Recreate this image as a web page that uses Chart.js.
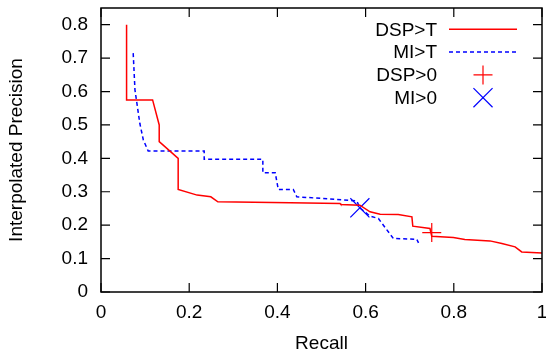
<!DOCTYPE html>
<html>
<head>
<meta charset="utf-8">
<script src="https://cdn.jsdelivr.net/npm/chart.js@4/dist/chart.umd.min.js"></script>
<style>
  html, body { margin: 0; padding: 0; background: #fff; }
  #wrap { width: 546px; height: 352px; }
</style>
</head>
<body>
<div id="wrap"><canvas id="c" width="546" height="352"></canvas></div>
<script>
// values
const dspRecall = [0.058, 0.058, 0.117, 0.132, 0.132, 0.175, 0.175, 0.218, 0.249, 0.265, 0.429, 0.542, 0.544, 0.587, 0.61, 0.633, 0.674, 0.705, 0.707, 0.746, 0.75, 0.799, 0.825, 0.882, 0.909, 0.939, 0.954, 1.0]
const dspPrecision = [0.8, 0.575, 0.575, 0.5, 0.45, 0.40, 0.307, 0.29, 0.285, 0.27, 0.267, 0.265, 0.262, 0.26, 0.24, 0.233, 0.232, 0.225, 0.197, 0.19, 0.167, 0.163, 0.157, 0.153, 0.145, 0.135, 0.12, 0.117]
const miRecall = [0.073, 0.077, 0.088, 0.096, 0.107, 0.234, 0.234, 0.367, 0.367, 0.395, 0.402, 0.436, 0.444, 0.58, 0.587, 0.61, 0.629, 0.663, 0.716, 0.72]
const miPrecision = [0.715, 0.605, 0.505, 0.455, 0.422, 0.422, 0.397, 0.397, 0.357, 0.357, 0.307, 0.307, 0.285, 0.273, 0.252, 0.227, 0.22, 0.16, 0.158, 0.147]
const dspZero = { recall: 0.75, precision: 0.178 }
const miZero = { recall: 0.587, precision: 0.252 }
const xTicks = [0, 0.2, 0.4, 0.6, 0.8, 1]
const yTicks = [0, 0.1, 0.2, 0.3, 0.4, 0.5, 0.6, 0.7, 0.8]
const labels = ['DSP>T', 'MI>T', 'DSP>0', 'MI>0']

const font = { family: '"Liberation Sans", Arial, sans-serif', size: 19 }
const toPoints = (xs, ys) => xs.map((x, i) => ({ x, y: ys[i] }))

// gnuplot style frame: border plus inward ticks on all four sides
const framePlugin = {
  id: 'frame',
  afterDatasetsDraw (chart) {
    const { ctx, chartArea: a, scales } = chart
    ctx.save()
    ctx.strokeStyle = '#000'
    ctx.lineWidth = 1.5
    ctx.strokeRect(a.left, a.top, a.right - a.left, a.bottom - a.top)
    ctx.lineWidth = 1.2
    ctx.beginPath()
    xTicks.forEach(v => {
      const px = scales.x.getPixelForValue(v)
      ctx.moveTo(px, a.bottom); ctx.lineTo(px, a.bottom - 9)
      ctx.moveTo(px, a.top); ctx.lineTo(px, a.top + 9)
    })
    yTicks.forEach(v => {
      const py = scales.y.getPixelForValue(v)
      ctx.moveTo(a.left, py); ctx.lineTo(a.left + 9, py)
      ctx.moveTo(a.right, py); ctx.lineTo(a.right - 9, py)
    })
    ctx.stroke()
    ctx.restore()
  }
}

// key in the top right corner, text right aligned with the sample after it
const keyPlugin = {
  id: 'key',
  afterDraw (chart) {
    const { ctx, chartArea: a } = chart
    const textRight = a.right - 105
    const x0 = a.right - 93
    const x1 = a.right - 25
    ctx.save()
    ctx.font = `${font.size}px ${font.family}`
    ctx.textAlign = 'right'
    ctx.textBaseline = 'middle'
    ctx.fillStyle = '#000'
    chart.data.datasets.forEach((ds, i) => {
      const y = a.top + 21.3 + i * 22.8
      ctx.fillText(labels[i], textRight, y + 1)
      ctx.strokeStyle = ds.borderColor
      ctx.lineWidth = ds.borderWidth
      if (ds.showLine) {
        ctx.setLineDash(ds.borderDash || [])
        ctx.beginPath(); ctx.moveTo(x0, y); ctx.lineTo(x1, y); ctx.stroke()
        ctx.setLineDash([])
      } else {
        Chart.helpers.drawPoint(ctx, {
          pointStyle: ds.pointStyle,
          radius: ds.pointRadius,
          borderWidth: ds.borderWidth
        }, (x0 + x1) / 2, y)
      }
    })
    ctx.restore()
  }
}

new Chart(document.getElementById('c'), {
  type: 'scatter',
  data: {
    datasets: [{
      label: labels[0],
      data: toPoints(dspRecall, dspPrecision),
      showLine: true,
      borderColor: '#ff0000',
      borderWidth: 1.5,
      pointRadius: 0,
      tension: 0
    }, {
      label: labels[1],
      data: toPoints(miRecall, miPrecision),
      showLine: true,
      borderColor: '#0000ff',
      borderWidth: 1.5,
      borderDash: [4, 3],
      pointRadius: 0,
      tension: 0
    }, {
      label: labels[2],
      data: [{ x: dspZero.recall, y: dspZero.precision }],
      showLine: false,
      pointStyle: 'cross',
      pointRadius: 9.5,
      borderColor: '#ff0000',
      borderWidth: 1.2
    }, {
      label: labels[3],
      data: [{ x: miZero.recall, y: miZero.precision }],
      showLine: false,
      pointStyle: 'crossRot',
      pointRadius: 13.5,
      borderColor: '#0000ff',
      borderWidth: 1.2
    }]
  },
  options: {
    responsive: false,
    animation: false,
    layout: { autoPadding: false, padding: { top: 8, right: 4, left: 0, bottom: 0 } },
    plugins: {
      legend: { display: false },
      tooltip: { enabled: false }
    },
    scales: {
      x: {
        type: 'linear',
        min: 0,
        max: 1,
        afterBuildTicks: s => { s.ticks = xTicks.map(value => ({ value })) },
        afterFit: s => { s.height = 60; s.paddingLeft = 0; s.paddingRight = 0 },
        grid: { display: false, drawTicks: false },
        border: { display: false },
        ticks: { font, color: '#000', padding: 9, maxRotation: 0, callback: v => String(v) },
        title: { display: true, text: 'Recall', font, color: '#000', padding: { top: 0, bottom: -3 } }
      },
      y: {
        type: 'linear',
        min: 0,
        max: 0.85,
        afterBuildTicks: s => { s.ticks = yTicks.map(value => ({ value })) },
        afterFit: s => { s.width = 101; s.paddingTop = 0; s.paddingBottom = 0 },
        grid: { display: false, drawTicks: false },
        border: { display: false },
        ticks: { font, color: '#000', padding: 13, callback: v => String(v) },
        title: { display: true, text: 'Interpolated Precision', font, color: '#000', padding: { top: 5, bottom: 0 } }
      }
    }
  },
  plugins: [framePlugin, keyPlugin]
})
</script>
</body>
</html>
